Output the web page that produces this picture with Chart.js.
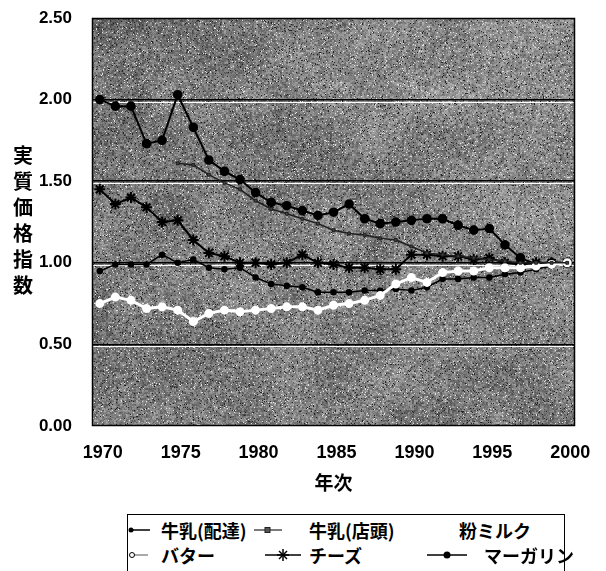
<!DOCTYPE html>
<html><head><meta charset="utf-8">
<script src="https://cdn.jsdelivr.net/npm/chart.js@4/dist/chart.umd.min.js"></script>
<style>
html,body{margin:0;padding:0;background:#fff;}
#wrap{position:relative;width:606px;height:571px;overflow:hidden;}
#c{position:absolute;left:0;top:0;}
.yt{position:absolute;left:11px;top:142px;width:24px;font:bold 20px "Noto Sans CJK JP",sans-serif;line-height:26px;text-align:center;color:#000;}
#legend{position:absolute;left:127px;top:514px;width:436px;height:80px;border:1px solid #000;background:#fff;}
.it{position:absolute;font:bold 18px "Noto Sans CJK JP",sans-serif;line-height:20px;white-space:nowrap;color:#000;}
.mk{position:absolute;}
</style></head>
<body><div id="wrap">
<canvas id="c" width="606" height="571"></canvas>
<div class="yt">実<br>質<br>価<br>格<br>指<br>数</div>
<div id="legend">
  <svg class="mk" style="left:0px;top:9px" width="24" height="12"><line x1="2" y1="6" x2="22" y2="6" stroke="#000" stroke-width="1.5"/><circle cx="3" cy="6" r="2.5" fill="#000"/></svg>
  <div class="it" style="left:33px;top:5px">牛乳(配達)</div>
  <svg class="mk" style="left:126px;top:9px" width="30" height="12"><line x1="0" y1="6" x2="28" y2="6" stroke="#222" stroke-width="1.2"/><rect x="11" y="3.5" width="5" height="5" fill="#555" stroke="#222" stroke-width="1"/></svg>
  <div class="it" style="left:181px;top:5px">牛乳(店頭)</div>
  <div class="it" style="left:331px;top:5px">粉ミルク</div>
  <svg class="mk" style="left:0px;top:34px" width="24" height="12"><line x1="5" y1="6" x2="20" y2="6" stroke="#555" stroke-width="1"/><circle cx="4" cy="6" r="2.5" fill="#fff" stroke="#000" stroke-width="1"/></svg>
  <div class="it" style="left:33px;top:30px">バター</div>
  <svg class="mk" style="left:137px;top:32px" width="38" height="16"><line x1="0" y1="8" x2="36" y2="8" stroke="#000" stroke-width="1.5"/><g stroke="#000" stroke-width="1.5"><line x1="18" y1="2" x2="18" y2="14"/><line x1="12" y1="8" x2="24" y2="8"/><line x1="14" y1="4" x2="22" y2="12"/><line x1="22" y1="4" x2="14" y2="12"/></g></svg>
  <div class="it" style="left:181px;top:30px">チーズ</div>
  <svg class="mk" style="left:299px;top:34px" width="42" height="12"><line x1="0" y1="6" x2="40" y2="6" stroke="#000" stroke-width="1.5"/><circle cx="20" cy="6" r="3.5" fill="#000"/></svg>
  <div class="it" style="left:356px;top:30px">マーガリン</div>
</div>
</div>
<script>
const years = [1970,1971,1972,1973,1974,1975,1976,1977,1978,1979,1980,1981,1982,1983,1984,1985,1986,1987,1988,1989,1990,1991,1992,1993,1994,1995,1996,1997,1998,1999,2000];
const xTickYears = [1970,1975,1980,1985,1990,1995,2000];
const yTicks = [0,0.5,1.0,1.5,2.0,2.5];

const milkDelivered = [0.95,0.99,0.99,0.99,1.05,1.00,1.02,0.97,0.96,0.97,0.91,0.87,0.86,0.85,0.82,0.82,0.82,0.83,0.83,0.84,0.83,0.85,0.90,0.90,0.91,0.91,0.93,0.94,0.96,0.98,1.00];
const milkStore = [null,null,null,null,null,1.61,1.60,1.54,1.49,1.45,1.38,1.33,1.30,1.27,1.24,1.20,1.18,1.17,1.15,1.14,1.10,1.06,1.05,1.04,1.03,1.02,1.01,1.00,1.00,1.00,1.00];
const powderedMilk = [null,null,null,null,null,null,null,null,null,null,null,null,null,null,null,null,null,null,null,null,null,null,null,null,null,null,null,null,null,null,null];
const butter = [0.75,0.79,0.77,0.72,0.73,0.71,0.64,0.69,0.71,0.70,0.71,0.72,0.73,0.73,0.71,0.74,0.75,0.77,0.80,0.87,0.91,0.88,0.94,0.95,0.95,0.97,0.97,0.97,0.98,0.99,1.00];
const cheese = [1.45,1.36,1.40,1.34,1.25,1.26,1.14,1.06,1.04,1.00,1.00,0.99,1.00,1.05,1.00,0.99,0.97,0.97,0.96,0.96,1.05,1.05,1.04,1.04,1.02,1.03,1.00,0.99,1.00,1.00,1.00];
const margarine = [2.00,1.96,1.96,1.73,1.75,2.03,1.83,1.63,1.56,1.51,1.43,1.37,1.35,1.32,1.29,1.31,1.36,1.27,1.24,1.25,1.26,1.27,1.27,1.23,1.20,1.21,1.11,1.03,0.99,1.00,1.00];

function hash(x,y){
  let h = (Math.imul(x,374761393) + Math.imul(y,668265263)) | 0;
  h = Math.imul(h ^ (h>>>13), 1274126177);
  h ^= h>>>16;
  return (h>>>0)/4294967295;
}
function smooth(x,y,s){
  const gx = Math.floor(x/s), gy = Math.floor(y/s);
  const tx = x/s-gx, ty = y/s-gy;
  const a = hash(gx+5000,gy+7000), b = hash(gx+5001,gy+7000), c = hash(gx+5000,gy+7001), d = hash(gx+5001,gy+7001);
  const u = tx*tx*(3-2*tx), v = ty*ty*(3-2*ty);
  return (a*(1-u)+b*u)*(1-v) + (c*(1-u)+d*u)*v;
}
let texCanvas = null;
function getTexture(w,h){
  if (texCanvas && texCanvas.width===w && texCanvas.height===h) return texCanvas;
  texCanvas = document.createElement('canvas');
  texCanvas.width = w; texCanvas.height = h;
  const g = texCanvas.getContext('2d');
  const img = g.createImageData(w,h);
  for (let y=0;y<h;y++){
    for (let x=0;x<w;x++){
      const fx = x/w, fy = y/h;
      const base = 112 + 38*fx*(1-fy) + 14*fy + (smooth(x,y,40)-0.5)*30;
      const n = (hash(x>>1,y>>1)*2-1)*0.6 + (hash(x,y)*2-1)*0.4;
      let v = base + n*48;
      const r2 = hash(x+911,y+377);
      if (r2 > 0.97) v = 225; else if (r2 < 0.035) v = 35;
      v = Math.max(0,Math.min(255,v));
      const i = (y*w+x)*4;
      img.data[i]=v; img.data[i+1]=v; img.data[i+2]=v; img.data[i+3]=255;
    }
  }
  g.putImageData(img,0,0);
  return texCanvas;
}

const plotDecor = {
  id:'plotDecor',
  beforeDraw(chart){
    const a = chart.chartArea, ctx = chart.ctx;
    const w = Math.round(a.right-a.left), h = Math.round(a.bottom-a.top);
    ctx.drawImage(getTexture(w,h), Math.round(a.left), Math.round(a.top));
  },
  beforeDatasetsDraw(chart){
    const a = chart.chartArea, ctx = chart.ctx, ys = chart.scales.y;
    ctx.save();
    ctx.strokeStyle = '#fff'; ctx.lineWidth = 1;
    [0.5,1.0,1.5,2.0].forEach(v=>{
      const py = Math.round(ys.getPixelForValue(v)) + 2.5;
      ctx.beginPath(); ctx.moveTo(a.left, py); ctx.lineTo(a.right, py); ctx.stroke();
    });
    ctx.restore();
  },
  afterDatasetsDraw(chart){
    const a = chart.chartArea, ctx = chart.ctx;
    ctx.save();
    ctx.strokeStyle = '#000'; ctx.lineWidth = 1.5;
    ctx.strokeRect(Math.round(a.left)+0.5, Math.round(a.top)+0.5, Math.round(a.right-a.left)-1, Math.round(a.bottom-a.top)-1);
    ctx.restore();
  }
};

Chart.defaults.font.family = '"Liberation Sans", Arial, sans-serif';
Chart.defaults.color = '#000';

new Chart(document.getElementById('c'), {
  type:'line',
  data:{
    labels: years,
    datasets:[
      {label:'牛乳(店頭)', data: milkStore, borderColor:'#1e1e1e', borderWidth:1.5, pointStyle:'rect', pointRadius:2, pointBackgroundColor:'#444', pointBorderColor:'#1e1e1e', pointBorderWidth:1, tension:0},
      {label:'粉ミルク', data: powderedMilk, borderColor:'#8a8a8a', borderWidth:1, pointRadius:0, tension:0},
      {label:'バター', data: butter, borderColor:'#fff', borderWidth:3, pointStyle:'circle', pointRadius:3, pointBackgroundColor:'#fff', pointBorderColor:'#fff', tension:0},
      {label:'牛乳(配達)', data: milkDelivered, borderColor:'#000', borderWidth:1.5, pointStyle:'circle', pointRadius:2.5, pointBackgroundColor:'#000', pointBorderColor:'#000', tension:0},
      {label:'チーズ', data: cheese, borderColor:'#000', borderWidth:2, pointStyle:'star', pointRadius:5.5, pointBorderWidth:2, pointBorderColor:'#000', pointBackgroundColor:'#000', tension:0},
      {label:'マーガリン', data: margarine, borderColor:'#000', borderWidth:2, pointStyle:'circle', pointRadius:3.8, pointBackgroundColor:'#000', pointBorderColor:'#000', tension:0}
    ]
  },
  options:{
    responsive:false,
    animation:false,
    events:[],
    layout:{padding:{left:0,top:18,right:31,bottom:65}},
    plugins:{legend:{display:false}, tooltip:{enabled:false}},
    scales:{
      x:{
        type:'category',
        offset:true,
        grid:{display:false, drawTicks:false},
        border:{display:false},
        ticks:{
          autoSkip:false, maxRotation:0, minRotation:0, padding:16, labelOffset:3,
          font:{size:18, weight:'bold'},
          callback:function(v,i){ const yr = years[i]; return xTickYears.includes(yr) ? String(yr) : ''; }
        },
        title:{display:true, text:'年次', font:{size:19, weight:'bold', family:'"Noto Sans CJK JP", sans-serif'}, padding:{top:0,bottom:12}},
        afterFit:function(s){ s.height = 80; }
      },
      y:{
        min:0, max:2.5,
        afterBuildTicks:function(s){ s.ticks = yTicks.map(v=>({value:v})); },
        grid:{drawTicks:true, tickLength:20, tickColor:'rgba(0,0,0,0)', color:(ctx)=> (ctx.tick && (ctx.tick.value===0 || ctx.tick.value===2.5)) ? 'rgba(0,0,0,0)' : '#000', lineWidth:1.5},
        border:{display:false},
        ticks:{padding:0, font:{size:17, weight:'bold'}, callback:(v)=>Number(v).toFixed(2)},
        afterFit:function(s){ s.width = 92; }
      }
    }
  },
  plugins:[plotDecor]
});
</script>
</body></html>
